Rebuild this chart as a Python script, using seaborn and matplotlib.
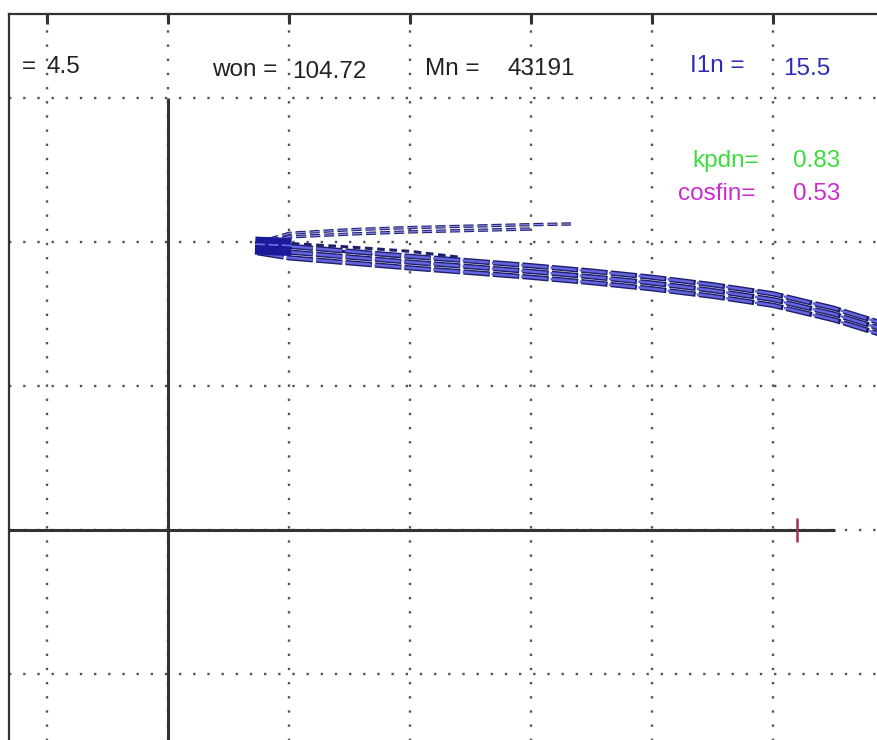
import matplotlib
matplotlib.use("Agg")
import matplotlib.pyplot as plt
import numpy as np
import pandas as pd
import seaborn as sns

sns.set_theme(style="white")
plt.rcParams['font.family'] = ['Liberation Sans', 'DejaVu Sans']

# --- trajectory on the speed / torque plane -------------------------------
# main (lower) branch: three neighbouring traces
speed_lower = [0.74, 1.0, 1.5, 2.0, 2.5, 3.0, 3.5, 4.0, 4.5, 5.0, 5.5, 6.0, 6.5, 7.0]
torque_lower_a = [2.005, 1.970, 1.935, 1.900, 1.868, 1.835, 1.798, 1.755, 1.703, 1.640, 1.540, 1.410, 1.260, 1.090]
torque_lower_b = [1.965, 1.930, 1.895, 1.860, 1.828, 1.795, 1.758, 1.715, 1.663, 1.600, 1.500, 1.370, 1.220, 1.050]
torque_lower_c = [1.925, 1.890, 1.855, 1.820, 1.788, 1.755, 1.718, 1.675, 1.623, 1.560, 1.460, 1.330, 1.180, 1.010]

# upper (short) branch
speed_upper_a = [0.72, 1.0, 1.5, 2.0, 2.5, 3.0, 3.33]
torque_upper_a = [1.99, 2.06, 2.085, 2.10, 2.11, 2.12, 2.125]
speed_upper_b = [0.72, 1.0, 1.5, 2.0, 2.5, 3.0]
torque_upper_b = [1.98, 2.035, 2.055, 2.07, 2.08, 2.09]

# transition traces between the branches
speed_mid_a = [0.72, 1.0, 1.5, 2.0, 2.4]
torque_mid_a = [1.985, 1.990, 1.965, 1.935, 1.895]
speed_mid_b = [0.72, 1.0, 1.5, 1.9]
torque_mid_b = [1.975, 1.965, 1.930, 1.900]

# start of the trajectory
speed_start = [0.72, 1.02]
torque_start = [1.975, 1.965]

# rated speed marker
speed_mark = 5.2

# annotations: (name, value, colour)
labels = ["=", "won =", "Mn =", "I1n =", "kpdn=", "cosfin="]
values = ["4.5", "104.72", "43191", "15.5", "0.83", "0.53"]
colors = ["#222222", "#222222", "#222222", "#2b2bb8", "#3ddc3d", "#cc2ccc"]
label_pos = [(-1.207, 3.170), (0.364, 3.153), (2.124, 3.160), (4.314, 3.180), (4.331, 2.521), (4.215, 2.292)]
value_pos = [(-1.000, 3.170), (1.025, 3.139), (2.802, 3.160), (5.083, 3.160), (5.165, 2.521), (5.165, 2.292)]

# --- figure ---------------------------------------------------------------
fig = plt.figure(figsize=(8.78, 7.40), dpi=100)
fig.patch.set_facecolor("white")
ax = fig.add_axes([9 / 878, -60 / 740, 991 / 878, 786 / 740])
ax.set_facecolor("white")

navy = "#1e1e6e"
light = "#6464dc"

def trace(xs, ys, **kw):
    df = pd.DataFrame({"speed": xs, "torque": ys})
    sns.lineplot(data=df, x="speed", y="torque", sort=False, estimator=None, ax=ax, **kw)

# upper branch
for xs, ys in [(speed_upper_a, torque_upper_a), (speed_upper_b, torque_upper_b)]:
    trace(xs, ys, color=navy, lw=2.4, linestyle=(0, (3.0, 1.2)), zorder=3)
    trace(xs, ys, color="#8a8ae8", lw=0.9, linestyle=(0, (8.0, 3.2)), zorder=3)

# transition traces
for xs, ys in [(speed_mid_a, torque_mid_a), (speed_mid_b, torque_mid_b)]:
    trace(xs, ys, color=navy, lw=2.2, linestyle=(0, (2.5, 1.5)), zorder=3)

# main branch
for ys in [torque_lower_a, torque_lower_b, torque_lower_c]:
    trace(speed_lower, ys, color=navy, lw=3.8, linestyle=(0, (5.0, 0.6)), zorder=4)
    trace(speed_lower, ys, color=light, lw=1.8, linestyle=(0, (10.5, 1.27)), zorder=4)

# start blob
trace(speed_start, torque_start, color="#1a1a9a", lw=13, solid_capstyle="butt", zorder=5)
trace(speed_start, [torque_start[0] + 0.01, torque_start[1] + 0.01], color="#7070e0",
      lw=1.2, linestyle=(0, (6, 2)), zorder=5)

# coordinate axes through the origin
ax.hlines(0, -1.5, 5.51, color="#333333", lw=2.2, zorder=2)
ax.vlines(0, -2.5, 3.0, color="#333333", lw=2.2, zorder=2)
ax.vlines(speed_mark, -0.08, 0.08, color="#a8304c", lw=1.8, zorder=5)

# texts
for lab, val, col, lp, vp in zip(labels, values, colors, label_pos, value_pos):
    ax.text(lp[0], lp[1], lab, color=col, fontsize=17.5, ha="left", va="baseline", zorder=6)
    ax.text(vp[0], vp[1], val, color=col, fontsize=17.5, ha="left", va="baseline", zorder=6)

# limits, grid, ticks
ax.set_xlim(-1.314, 6.876)
ax.set_ylim(-1.875, 3.583)
ax.set_xticks(np.arange(-1, 7))
ax.set_yticks(np.arange(-1, 4))
ax.grid(True, color="#555555", linestyle=(0, (1, 5)), linewidth=1.7)
ax.set_axisbelow(True)
ax.tick_params(axis="x", which="both", top=True, bottom=False, labeltop=False,
               labelbottom=False, direction="in", length=7, width=2.2, color="#333333")
ax.tick_params(axis="y", which="both", left=False, right=False, labelleft=False, length=0)
ax.set_xlabel("")
ax.set_ylabel("")
for side in ["left", "top"]:
    ax.spines[side].set_visible(True)
    ax.spines[side].set_color("#333333")
    ax.spines[side].set_linewidth(1.6)

fig.savefig("out.png", dpi=100, facecolor="white")
